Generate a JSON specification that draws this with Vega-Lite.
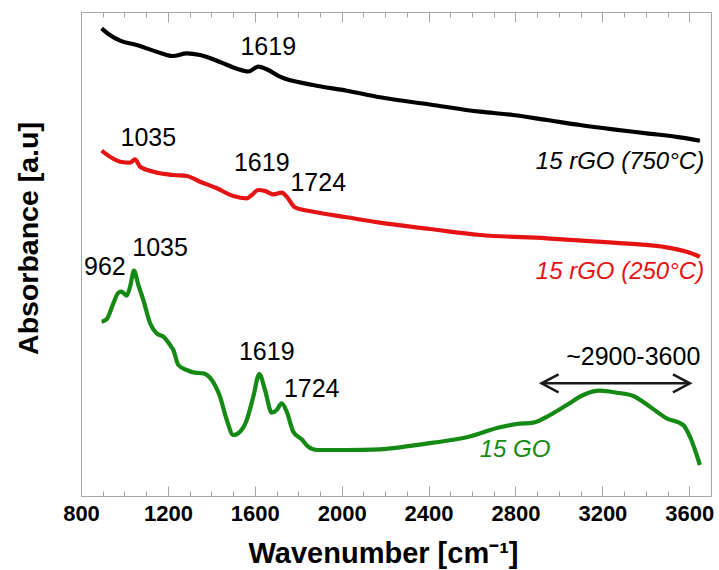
{
  "$schema": "https://vega.github.io/schema/vega-lite/v6.json",
  "width": 630,
  "height": 484,
  "autosize": "none",
  "padding": {"left": 81, "top": 12, "right": 8, "bottom": 74},
  "config": {
    "view": {"stroke": "#a6a6a6", "strokeWidth": 1},
    "font": "Liberation Sans",
    "axis": {"grid": false, "domain": false, "tickColor": "#a6a6a6", "tickWidth": 1}
  },
  "datasets": {
    "lines": [
      {"s": "750", "x": 895, "y": 467.7}, {"s": "750", "x": 933, "y": 461}, {"s": "750", "x": 980, "y": 455.3}, {"s": "750", "x": 1056, "y": 451}, {"s": "750", "x": 1148, "y": 444.3}, {"s": "750", "x": 1223, "y": 440}, {"s": "750", "x": 1287, "y": 442.7}, {"s": "750", "x": 1348, "y": 441}, {"s": "750", "x": 1440, "y": 434}, {"s": "750", "x": 1517, "y": 427.3}, {"s": "750", "x": 1570, "y": 424.5}, {"s": "750", "x": 1616, "y": 429.3}, {"s": "750", "x": 1655, "y": 426.7}, {"s": "750", "x": 1716, "y": 419.3}, {"s": "750", "x": 1868, "y": 411}, {"s": "750", "x": 2023, "y": 405.3}, {"s": "750", "x": 2176, "y": 398.7}, {"s": "750", "x": 2406, "y": 391.5}, {"s": "750", "x": 2637, "y": 384.3}, {"s": "750", "x": 2789, "y": 381}, {"s": "750", "x": 2944, "y": 376}, {"s": "750", "x": 3097, "y": 371}, {"s": "750", "x": 3249, "y": 366.7}, {"s": "750", "x": 3404, "y": 362.7}, {"s": "750", "x": 3557, "y": 358.7}, {"s": "750", "x": 3649, "y": 355.3},
      {"s": "250", "x": 895, "y": 345.3}, {"s": "250", "x": 933, "y": 339.3}, {"s": "250", "x": 980, "y": 334.3}, {"s": "250", "x": 1026, "y": 333.3}, {"s": "250", "x": 1049, "y": 336.7}, {"s": "250", "x": 1072, "y": 329.3}, {"s": "250", "x": 1133, "y": 324.3}, {"s": "250", "x": 1225, "y": 321}, {"s": "250", "x": 1287, "y": 320}, {"s": "250", "x": 1348, "y": 314.3}, {"s": "250", "x": 1425, "y": 307.7}, {"s": "250", "x": 1501, "y": 300}, {"s": "250", "x": 1563, "y": 297.7}, {"s": "250", "x": 1586, "y": 301}, {"s": "250", "x": 1616, "y": 306}, {"s": "250", "x": 1647, "y": 305}, {"s": "250", "x": 1685, "y": 301.7}, {"s": "250", "x": 1724, "y": 303.3}, {"s": "250", "x": 1747, "y": 299.3}, {"s": "250", "x": 1785, "y": 288.7}, {"s": "250", "x": 1869, "y": 284.3}, {"s": "250", "x": 2023, "y": 278.7}, {"s": "250", "x": 2176, "y": 273.3}, {"s": "250", "x": 2406, "y": 267}, {"s": "250", "x": 2637, "y": 261}, {"s": "250", "x": 2944, "y": 257.7}, {"s": "250", "x": 3249, "y": 253.3}, {"s": "250", "x": 3479, "y": 249.3}, {"s": "250", "x": 3588, "y": 244.3}, {"s": "250", "x": 3649, "y": 239.3},
      {"s": "GO", "x": 895, "y": 174.3}, {"s": "GO", "x": 918, "y": 176.7}, {"s": "GO", "x": 949, "y": 192.7}, {"s": "GO", "x": 972, "y": 203.3}, {"s": "GO", "x": 987, "y": 204.3}, {"s": "GO", "x": 1010, "y": 200.3}, {"s": "GO", "x": 1026, "y": 209.3}, {"s": "GO", "x": 1044, "y": 225.3}, {"s": "GO", "x": 1064, "y": 211}, {"s": "GO", "x": 1087, "y": 196}, {"s": "GO", "x": 1118, "y": 172.7}, {"s": "GO", "x": 1148, "y": 162.7}, {"s": "GO", "x": 1179, "y": 159.3}, {"s": "GO", "x": 1210, "y": 151}, {"s": "GO", "x": 1225, "y": 146}, {"s": "GO", "x": 1248, "y": 131}, {"s": "GO", "x": 1287, "y": 126}, {"s": "GO", "x": 1325, "y": 123.3}, {"s": "GO", "x": 1363, "y": 122.7}, {"s": "GO", "x": 1402, "y": 116}, {"s": "GO", "x": 1440, "y": 99.3}, {"s": "GO", "x": 1471, "y": 76}, {"s": "GO", "x": 1501, "y": 61}, {"s": "GO", "x": 1532, "y": 64.3}, {"s": "GO", "x": 1563, "y": 76}, {"s": "GO", "x": 1593, "y": 99.3}, {"s": "GO", "x": 1621, "y": 122}, {"s": "GO", "x": 1647, "y": 106}, {"s": "GO", "x": 1678, "y": 83.3}, {"s": "GO", "x": 1701, "y": 86}, {"s": "GO", "x": 1724, "y": 92.7}, {"s": "GO", "x": 1747, "y": 84.3}, {"s": "GO", "x": 1777, "y": 64.3}, {"s": "GO", "x": 1816, "y": 56.7}, {"s": "GO", "x": 1846, "y": 49.3}, {"s": "GO", "x": 1885, "y": 46}, {"s": "GO", "x": 2023, "y": 46}, {"s": "GO", "x": 2176, "y": 46.7}, {"s": "GO", "x": 2268, "y": 48.7}, {"s": "GO", "x": 2422, "y": 53.3}, {"s": "GO", "x": 2575, "y": 58.7}, {"s": "GO", "x": 2729, "y": 68.7}, {"s": "GO", "x": 2805, "y": 72}, {"s": "GO", "x": 2882, "y": 73.3}, {"s": "GO", "x": 2959, "y": 81}, {"s": "GO", "x": 3036, "y": 91}, {"s": "GO", "x": 3112, "y": 101}, {"s": "GO", "x": 3189, "y": 105.3}, {"s": "GO", "x": 3266, "y": 103.3}, {"s": "GO", "x": 3342, "y": 100}, {"s": "GO", "x": 3419, "y": 89.3}, {"s": "GO", "x": 3496, "y": 77.7}, {"s": "GO", "x": 3572, "y": 71}, {"s": "GO", "x": 3603, "y": 59.3}, {"s": "GO", "x": 3649, "y": 31}
    ],
    "notes": [
      {"t": "1619", "x": 1662, "y": 449},
      {"t": "1035", "x": 1110, "y": 357.7},
      {"t": "1619", "x": 1632, "y": 332.7},
      {"t": "1724", "x": 1892, "y": 312.7},
      {"t": "962", "x": 910, "y": 229.3},
      {"t": "1035", "x": 1164, "y": 247.7},
      {"t": "1619", "x": 1655, "y": 144.3},
      {"t": "1724", "x": 1862, "y": 106.7},
      {"t": "~2900-3600", "x": 3342, "y": 139.3}
    ],
    "labels": [
      {"t": "15 rGO (750°C)", "s": "750", "x": 3281, "y": 334.3},
      {"t": "15 rGO (250°C)", "s": "250", "x": 3281, "y": 224},
      {"t": "15 GO", "s": "GO", "x": 2798, "y": 46}
    ],
    "arrow": [{"x": 2920, "x2": 3603, "y": 112.7}],
    "heads": [
      {"x": 2920, "y": 112.7, "d": "L"},
      {"x": 3603, "y": 112.7, "d": "R"}
    ]
  },
  "resolve": {"axis": {"x": "independent"}},
  "layer": [
    {
      "data": {"name": "lines"},
      "mark": {"type": "line", "strokeWidth": 4.2, "interpolate": "monotone"},
      "encoding": {
        "x": {"field": "x", "type": "quantitative", "scale": {"domain": [800, 3700], "nice": false, "zero": false},
          "axis": {"orient": "bottom", "values": [800, 1200, 1600, 2000, 2400, 2800, 3200, 3600], "format": "d", "tickSize": -10, "labelFontSize": 22, "labelFontWeight": "bold", "labelColor": "black", "labelPadding": 17, "labelFlush": false, "labelOverlap": false,
            "title": "Wavenumber [cm⁻¹]", "titleFontSize": 29, "titleFontWeight": "bold", "titleColor": "black", "titleX": 302, "titleY": 66, "titleBaseline": "alphabetic", "titleAnchor": null, "titleAlign": "center"}},
        "y": {"field": "y", "type": "quantitative", "scale": {"domain": [0, 484], "nice": false, "zero": false},
          "axis": {"orient": "left", "ticks": false, "labels": false, "title": "Absorbance [a.u]", "titleFontSize": 28.5, "titleFontWeight": "bold", "titleColor": "black", "titleX": -44, "titleY": 226, "titleAngle": -90, "titleBaseline": "alphabetic", "titleAlign": "center", "titleAnchor": null}},
        "color": {"field": "s", "type": "nominal", "scale": {"domain": ["750", "250", "GO"], "range": ["#000000", "#e41414", "#148a14"]}, "legend": null}
      }
    },
    {
      "data": {"name": "notes"},
      "mark": {"type": "text", "fontSize": 25, "color": "black", "align": "center", "baseline": "middle"},
      "encoding": {
        "x": {"field": "x", "type": "quantitative", "axis": {"orient": "bottom", "values": [900, 1000, 1100, 1300, 1400, 1500, 1700, 1800, 1900, 2100, 2200, 2300, 2500, 2600, 2700, 2900, 3000, 3100, 3300, 3400, 3500], "tickSize": -5, "labels": false, "title": null}},
        "y": {"field": "y", "type": "quantitative"},
        "text": {"field": "t"}
      }
    },
    {
      "data": {"name": "labels"},
      "mark": {"type": "text", "fontSize": 24, "fontStyle": "italic", "align": "center", "baseline": "middle"},
      "encoding": {
        "x": {"field": "x", "type": "quantitative", "axis": {"orient": "top", "values": [800, 1200, 1600, 2000, 2400, 2800, 3200, 3600], "tickSize": -10, "labels": false, "title": null}},
        "y": {"field": "y", "type": "quantitative"},
        "text": {"field": "t"},
        "color": {"field": "s", "type": "nominal", "legend": null}
      }
    },
    {
      "data": {"name": "arrow"},
      "mark": {"type": "rule", "strokeWidth": 2.5, "color": "#1a1a1a"},
      "encoding": {
        "x": {"field": "x", "type": "quantitative", "axis": {"orient": "top", "values": [900, 1000, 1100, 1300, 1400, 1500, 1700, 1800, 1900, 2100, 2200, 2300, 2500, 2600, 2700, 2900, 3000, 3100, 3300, 3400, 3500], "tickSize": -5, "labels": false, "title": null}},
        "x2": {"field": "x2"},
        "y": {"field": "y", "type": "quantitative"}
      }
    },
    {
      "data": {"name": "heads"},
      "mark": {"type": "point", "filled": false, "strokeWidth": 2.5, "color": "#1a1a1a", "size": 1156, "opacity": 1},
      "encoding": {
        "x": {"field": "x", "type": "quantitative", "axis": null},
        "y": {"field": "y", "type": "quantitative"},
        "shape": {"field": "d", "type": "nominal", "scale": {"domain": ["L", "R"], "range": ["M1,-0.53L0,0L1,0.53", "M-1,-0.53L0,0L-1,0.53"]}, "legend": null}
      }
    }
  ]
}
